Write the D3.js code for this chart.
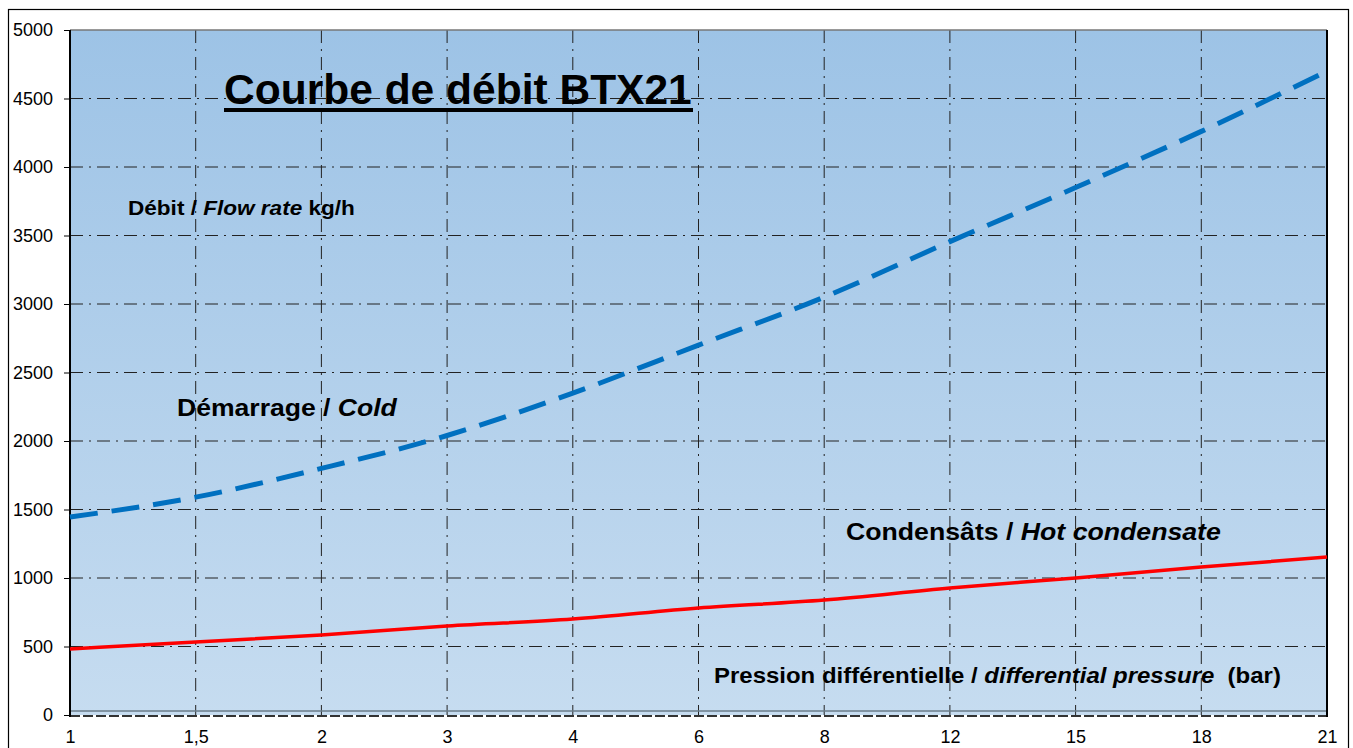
<!DOCTYPE html>
<html><head><meta charset="utf-8">
<script src="https://cdn.jsdelivr.net/npm/d3@7"></script>
<style>body{margin:0;background:#fff;}svg{display:block;font-family:Arial,"Liberation Sans",sans-serif;}</style>
</head><body><svg id="c" width="1353" height="748"></svg>
<script>
const categories = ["1","1,5","2","3","4","6","8","12","15","18","21"];
const coldValues = [1445,1590,1800,2040,2350,2700,3050,3455,3850,4260,4700];
const hotValues  = [482,533,584,650,700,781,839,927,1000,1080,1153];
const yTicks = [0,500,1000,1500,2000,2500,3000,3500,4000,4500,5000];

const svg = d3.select("#c");
const L=70, R=1327, T=30, B=715;
const x = d3.scalePoint().domain(categories).range([L,R]);
const y = d3.scaleLinear().domain([0,5000]).range([B,T]);
const FF = "Arial, 'Liberation Sans', sans-serif";

// measure tick font so that "5000" is ~40px wide like the reference
const probe = svg.append("text").attr("font-size",18).attr("font-family",FF).text("5000");
const tickFS = Math.max(14, Math.min(24, 18*40/probe.node().getComputedTextLength()));
probe.remove();

// outer border
svg.append("rect").attr("x",8.5).attr("y",9.5).attr("width",1340).attr("height",760)
  .attr("fill","#fff").attr("stroke","#000").attr("stroke-width",1.2);

// gradient
const defs = svg.append("defs");
const g = defs.append("linearGradient").attr("id","bg").attr("x1",0).attr("y1",0).attr("x2",0).attr("y2",1);
g.append("stop").attr("offset","0%").attr("stop-color","#9dc3e6");
g.append("stop").attr("offset","100%").attr("stop-color","#c6dcf0");
svg.append("rect").attr("x",L).attr("y",T).attr("width",R-L).attr("height",B-T).attr("fill","url(#bg)");

// grid
const dash = "13,6,2,6";
svg.append("g").selectAll("line").data(yTicks.filter(v=>v>0&&v<5000)).join("line")
  .attr("x1",L).attr("x2",R).attr("y1",d=>y(d)).attr("y2",d=>y(d))
  .attr("stroke","#222").attr("stroke-width",1).attr("stroke-dasharray",dash);
svg.append("g").selectAll("line").data(categories.slice(1,-1)).join("line")
  .attr("x1",d=>x(d)).attr("x2",d=>x(d)).attr("y1",T).attr("y2",B)
  .attr("stroke","#222").attr("stroke-width",1).attr("stroke-dasharray",dash);

// plot frame
svg.append("line").attr("x1",L).attr("x2",R).attr("y1",T).attr("y2",T).attr("stroke","#777").attr("stroke-width",1.5);
svg.append("line").attr("x1",L).attr("x2",R).attr("y1",B-4).attr("y2",B-4).attr("stroke","#6a7c8a").attr("stroke-width",1.5);
svg.append("line").attr("x1",L).attr("x2",R).attr("y1",B+1).attr("y2",B+1).attr("stroke","#333").attr("stroke-width",2).attr("stroke-dasharray","10,3");
svg.append("line").attr("x1",L).attr("x2",L).attr("y1",T).attr("y2",B+2).attr("stroke","#000").attr("stroke-width",2);
svg.append("line").attr("x1",R).attr("x2",R).attr("y1",T).attr("y2",B+2).attr("stroke","#000").attr("stroke-width",2);

// y axis
const ya = svg.append("g").attr("transform",`translate(${L},0)`)
  .call(d3.axisLeft(y).tickValues(yTicks).tickSize(6).tickPadding(11).tickFormat(d3.format("d")));
ya.attr("font-size",tickFS).attr("font-family",FF);
ya.select(".domain").remove();
ya.selectAll("text").attr("font-size",tickFS).attr("fill","#000");
ya.selectAll("line").attr("stroke","#000");

// x axis
const xa = svg.append("g").attr("transform",`translate(0,${B})`)
  .call(d3.axisBottom(x).tickSize(0).tickPadding(16));
xa.attr("font-size",tickFS).attr("font-family",FF);
xa.select(".domain").remove();
xa.selectAll("text").attr("font-size",tickFS).attr("fill","#000").attr("dy","0.65em");

// lines
const line = d3.line().x((d,i)=>x(categories[i])).y(d=>y(d)).curve(d3.curveMonotoneX);
svg.append("path").datum(coldValues).attr("d",line).attr("fill","none")
  .attr("stroke","#0070c0").attr("stroke-width",5).attr("stroke-dasharray","28,14");
svg.append("path").datum(hotValues).attr("d",line).attr("fill","none")
  .attr("stroke","#ff0000").attr("stroke-width",3.5);

// texts: fit each to its width in the reference
function fit(sel, x0, y0, w){
  const tw = sel.node().getComputedTextLength();
  sel.attr("transform",`translate(${x0},${y0}) scale(${w/tw},1)`);
}
const t = svg.append("text").attr("font-size",43).attr("font-weight","bold")
  .attr("fill","#000").style("font-family",FF).text("Courbe de débit BTX21");
fit(t,224,104,468);
svg.append("line").attr("x1",224).attr("x2",693).attr("y1",110).attr("y2",110).attr("stroke","#000").attr("stroke-width",4);

const lab1 = svg.append("text").attr("font-size",20).attr("font-weight","bold").style("font-family",FF);
lab1.append("tspan").text("Débit / ");
lab1.append("tspan").attr("font-style","italic").text("Flow rate");
lab1.append("tspan").text(" kg/h");
fit(lab1,128,215,227);

const lab2 = svg.append("text").attr("font-size",24).attr("font-weight","bold").style("font-family",FF);
lab2.append("tspan").text("Démarrage / ");
lab2.append("tspan").attr("font-style","italic").text("Cold");
fit(lab2,177,416,220);

const lab3 = svg.append("text").attr("font-size",24).attr("font-weight","bold").style("font-family",FF);
lab3.append("tspan").text("Condensâts / ");
lab3.append("tspan").attr("font-style","italic").text("Hot condensate");
fit(lab3,846,540,375);

const lab4 = svg.append("text").attr("font-size",22).attr("font-weight","bold").style("font-family",FF);
lab4.append("tspan").text("Pression différentielle / ");
lab4.append("tspan").attr("font-style","italic").text("differential pressure");
lab4.append("tspan").text("\u00a0 (bar)");
fit(lab4,714,683,567);
</script></body></html>
